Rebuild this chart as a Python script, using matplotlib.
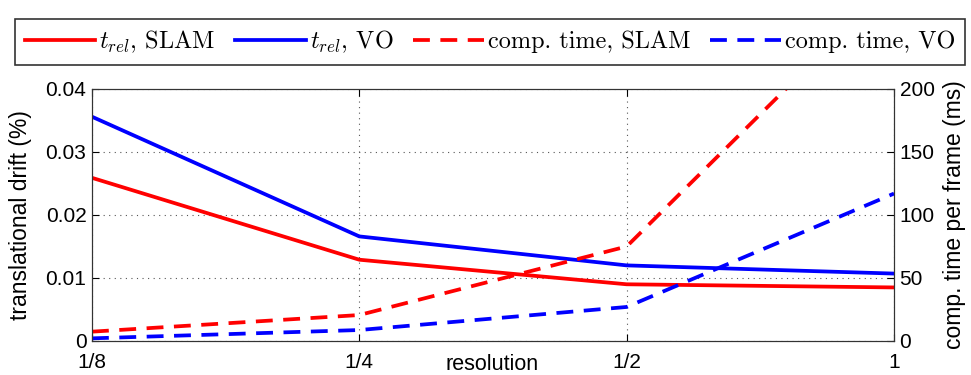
import matplotlib.pyplot as plt
import numpy as np

# resolucao (escala log2)
resolucao = [1/8, 1/4, 1/2, 1]
rotulos_x = ['1/8', '1/4', '1/2', '1']

# drift translacional (%)
drift_slam = [0.0259, 0.0129, 0.0090, 0.0085]
drift_vo = [0.0356, 0.0166, 0.0120, 0.0107]

# tempo de computacao por frame (ms)
tempo_slam = [7.4, 20.6, 75, 285]
tempo_vo = [2.1, 8.7, 27, 117]

plt.rcParams['mathtext.fontset'] = 'cm'
plt.rcParams['font.family'] = ['Liberation Sans', 'DejaVu Sans']

fig = plt.figure(figsize=(9.71, 3.75), dpi=100)
ax = fig.add_axes([0.0947, 0.0907, 0.826, 0.672])
ax2 = ax.twinx()

tracejado = (0, (4.5, 2.8))
l1, = ax.plot(resolucao, drift_slam, color='#ff0000', lw=2.7, label=r'$t_{rel}$, SLAM')
l2, = ax.plot(resolucao, drift_vo, color='#0000ff', lw=2.7, label=r'$t_{rel}$, VO')
l3, = ax2.plot(resolucao, tempo_slam, color='#ff0000', lw=2.7, ls=tracejado, label='comp. time, SLAM')
l4, = ax2.plot(resolucao, tempo_vo, color='#0000ff', lw=2.7, ls=tracejado, label='comp. time, VO')

ax.set_xscale('log', base=2)
ax.set_xlim(1/8, 1)
ax.set_xticks(resolucao)
ax.set_xticklabels(rotulos_x)
ax.minorticks_off()
ax.set_ylim(0, 0.04)
ax.set_yticks([0, 0.01, 0.02, 0.03, 0.04])
ax.set_yticklabels(['0', '0.01', '0.02', '0.03', '0.04'])
ax2.set_ylim(0, 200)
ax2.set_yticks([0, 50, 100, 150, 200])

ax.grid(True, ls=(0, (1, 4)), color='#555555', lw=0.8)
for a in (ax, ax2):
    a.tick_params(direction='in', labelsize=15, length=5, top=False, pad=4)
    for s in a.spines.values():
        s.set_color('#333333')
ax.tick_params(axis='x', top=True, pad=9)

ax.set_xlabel('resolution', fontsize=15.5)
ax.xaxis.set_label_coords(0.499, -0.05)
ax.set_ylabel('translational drift (%)', fontsize=16.5, labelpad=10)
ax2.set_ylabel('comp. time per frame (ms)', fontsize=16.5, labelpad=6)

leg = fig.legend(handles=[l1, l2, l3, l4], loc='lower left', ncol=4, mode='expand',
                 bbox_to_anchor=(0.0155, 0.827, 0.978, 0.125), borderaxespad=0,
                 fancybox=False, edgecolor='black', handlelength=2.9, handletextpad=0.15,
                 columnspacing=0.8, prop={'family': 'cmr10', 'size': 17.5})
leg.get_frame().set_linewidth(1.2)

plt.savefig('out.png', dpi=100)
